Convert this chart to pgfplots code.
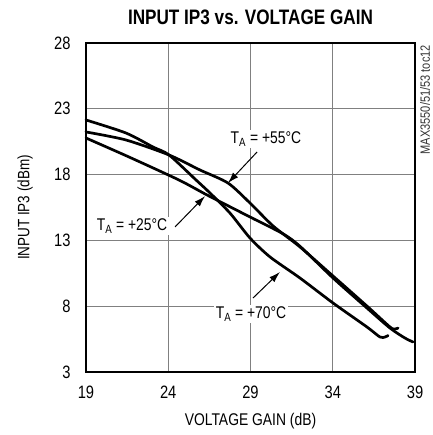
\documentclass[border=0pt]{standalone}
\usepackage{pgfplots}
\pgfplotsset{compat=1.18}
\usepackage{fontspec}
\setmainfont{Liberation Sans}[FakeStretch=0.82]
\usetikzlibrary{arrows.meta}
\tikzset{crv/.style={black, line width=2.7bp, no markers, smooth, tension=0.45, line join=round, line cap=round},
  lbl/.style={font=\fontsize{17}{19}\selectfont, fill=white, inner sep=1.5bp},
  arr/.style={line width=1bp, -{Latex[length=11bp,width=7bp]}}}
\begin{document}
\begin{tikzpicture}
\path (-86bp,-63bp) rectangle (347bp,372bp);
\begin{axis}[
  at={(0,0)}, anchor=south west,
  scale only axis, width=329bp, height=329bp,
  xmin=19, xmax=39, ymin=3, ymax=28,
  xtick={19,24,29,34,39}, ytick={3,8,13,18,23,28},
  grid=major, major grid style={gray, line width=1.1bp},
  axis line style={line width=2.6bp},
  major tick length=0pt,
  /pgf/number format/assume math mode=true,
  ticklabel style={font=\fontsize{18}{20}\selectfont},
  xticklabel style={yshift=-10bp},
  yticklabel style={xshift=-12bp},
  clip=false,
]
% T_A = +70C
\addplot[crv] coordinates {(19,22.15) (21.43,21.16) (23.07,20.10) (24.05,19.49) (25.69,17.59) (26.54,16.60) (27.75,15.08) (28.97,13.18) (30.19,11.74) (32.01,10.14) (34.02,8.24) (36.08,6.42) (36.87,5.66) (37.18,5.66) (37.36,5.77)};
% T_A = +55C
\addplot[crv] coordinates {(19,21.24) (21.43,20.63) (24.05,19.49) (25.93,18.35) (27.63,17.36) (28.97,15.84) (30.37,14.10) (32.01,12.50) (34.02,10.29) (36.08,8.01) (37.48,6.42) (37.78,6.27) (37.97,6.34)};
% T_A = +25C
\addplot[crv] coordinates {(19,20.78) (21.61,19.34) (24.65,17.59) (26.36,16.45) (28.97,14.78) (30.98,13.50) (32.01,12.55) (34.02,10.14) (36.08,7.86) (37.48,6.34) (38.39,5.58) (38.88,5.28)};
\coordinate (L55) at (axis cs:29.94,20.71);
\coordinate (L25) at (axis cs:21.80,14.09);
\coordinate (L70) at (axis cs:29.03,7.41);
\coordinate (A55s) at (axis cs:29.40,19.72);
\coordinate (A55e) at (axis cs:27.63,17.36);
\coordinate (A25s) at (axis cs:24.41,14.02);
\coordinate (A25e) at (axis cs:26.24,16.37);
\coordinate (A70s) at (axis cs:29.15,8.62);
\coordinate (A70e) at (axis cs:30.79,10.60);
\node[font=\bfseries\fontsize{21}{24}\selectfont] at ([yshift=26bp]rel axis cs:0.5,1) {INPUT IP3 vs. VOLTAGE GAIN};
\node[font=\fontsize{17}{19}\selectfont] at ([yshift=-49bp]rel axis cs:0.5,0) {VOLTAGE GAIN (dB)};
\node[font=\fontsize{16.5}{18}\selectfont, rotate=90] at ([xshift=-61bp]rel axis cs:0,0.5) {INPUT IP3 (dBm)};
\node[font=\fontsize{13.5}{14}\selectfont, rotate=90, anchor=east, inner sep=0pt, text=black!80] at ([xshift=10bp,yshift=-2bp]rel axis cs:1,1) {MAX3550/51/53 toc12};
\end{axis}
\node[lbl] at (L55) {T\textsubscript{A} = +55°C};
\node[lbl] at (L25) {T\textsubscript{A} = +25°C};
\node[lbl] at (L70) {T\textsubscript{A} = +70°C};
\draw[arr] (A55s) -- (A55e);
\draw[arr] (A25s) -- (A25e);
\draw[arr] (A70s) -- (A70e);
\end{tikzpicture}
\end{document}
